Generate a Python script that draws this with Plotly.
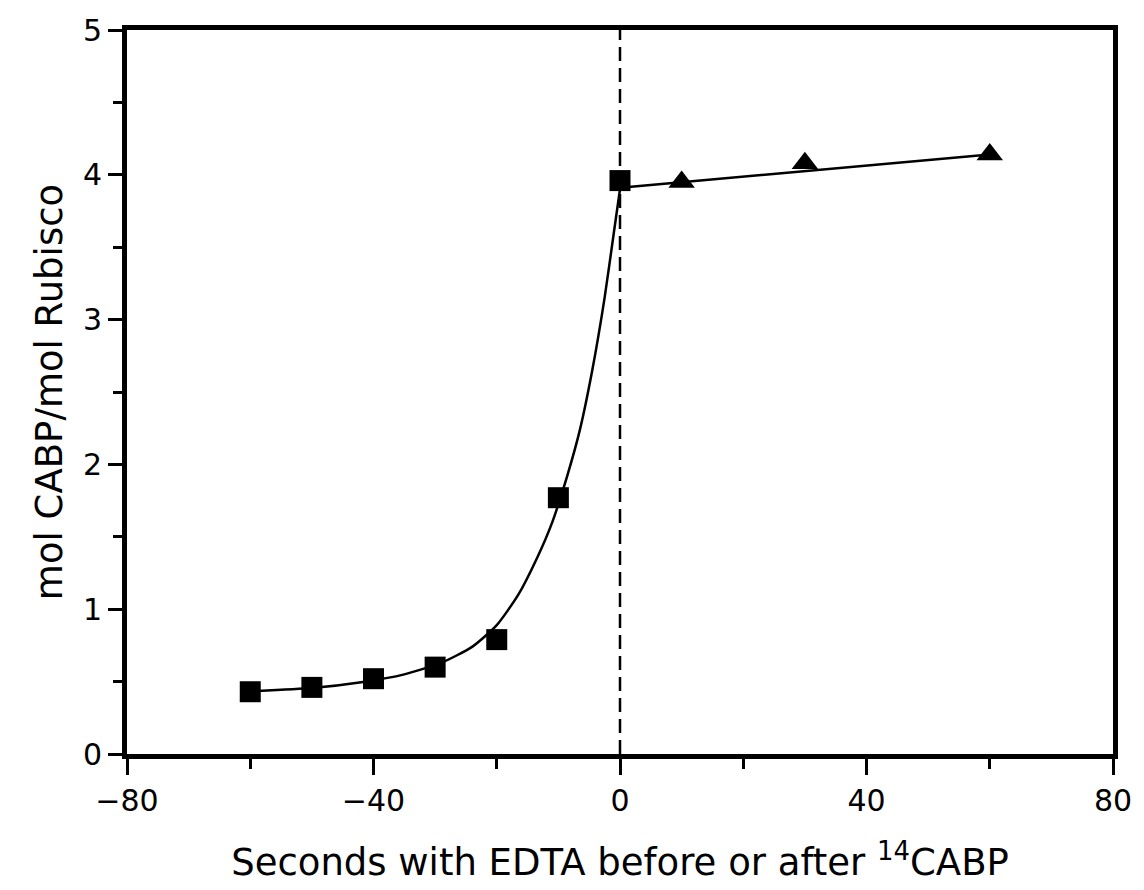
import plotly.graph_objects as go

# Data
sq_x = [-60, -50, -40, -30, -20, -10, 0]
sq_y = [0.43, 0.46, 0.52, 0.60, 0.79, 1.77, 3.96]

tri_x = [10, 30, 60]
tri_y = [3.95, 4.08, 4.14]

# Fitted curve
fit1_x = [-59, -50, -42, -35, -29, -24, -20, -16.5, -13.5, -11, -8.5, -6.5, -4.5, -2.5, -1, 0]
fit1_y = [0.435, 0.455, 0.495, 0.55, 0.63, 0.74, 0.89, 1.10, 1.35, 1.60, 1.93, 2.24, 2.65, 3.15, 3.60, 3.90]

fit2_x = [0, 60]
fit2_y = [3.91, 4.14]

vline_x = [0, 0]
vline_y = [0, 5]

x_ticks = [-80, -40, 0, 40, 80]
y_ticks = [0, 1, 2, 3, 4, 5]

font = "DejaVu Sans"

fig = go.Figure()
fig.add_trace(go.Scatter(x=vline_x, y=vline_y, mode="lines",
                         line=dict(color="black", width=2.5, dash="14px,7px"),
                         showlegend=False, hoverinfo="skip"))
fig.add_trace(go.Scatter(x=fit1_x, y=fit1_y, mode="lines",
                         line=dict(color="black", width=2.5, shape="spline", smoothing=0.6),
                         showlegend=False))
fig.add_trace(go.Scatter(x=fit2_x, y=fit2_y, mode="lines",
                         line=dict(color="black", width=2.5),
                         showlegend=False))
fig.add_trace(go.Scatter(x=sq_x, y=sq_y, mode="markers",
                         marker=dict(symbol="square", size=21, color="black"),
                         showlegend=False))
fig.add_trace(go.Scatter(x=tri_x, y=tri_y, mode="markers",
                         marker=dict(symbol="triangle-up", size=23, color="black"),
                         showlegend=False))

fig.update_layout(
    width=1144, height=890,
    margin=dict(l=127, r=27, t=29, b=127),
    paper_bgcolor="white", plot_bgcolor="white",
    font=dict(family=font, color="black"),
    xaxis=dict(range=[-80, 80], tickvals=x_ticks, ticks="outside", ticklen=16,
               tickwidth=3, tickcolor="black", showline=True, linewidth=5,
               linecolor="black", mirror=True, showgrid=False, zeroline=False,
               tickfont=dict(size=30, family=font),
               minor=dict(tickvals=[-60, -20, 20, 60], ticks="outside", ticklen=10,
                          tickwidth=3, tickcolor="black", showgrid=False),
               title=dict(text="Seconds with EDTA before or after <sup>14</sup>CABP",
                          font=dict(size=37, family=font), standoff=34)),
    yaxis=dict(range=[0, 5], tickvals=y_ticks, ticks="outside", ticklen=14,
               tickwidth=3, tickcolor="black", showline=True, linewidth=5,
               linecolor="black", mirror=True, showgrid=False, zeroline=False,
               tickfont=dict(size=30, family=font),
               minor=dict(tickvals=[0.5, 1.5, 2.5, 3.5, 4.5], ticks="outside", ticklen=9,
                          tickwidth=3, tickcolor="black", showgrid=False),
               title=dict(text="mol CABP/mol Rubisco",
                          font=dict(size=37, family=font), standoff=10)),
)

fig.write_html("out.html")
